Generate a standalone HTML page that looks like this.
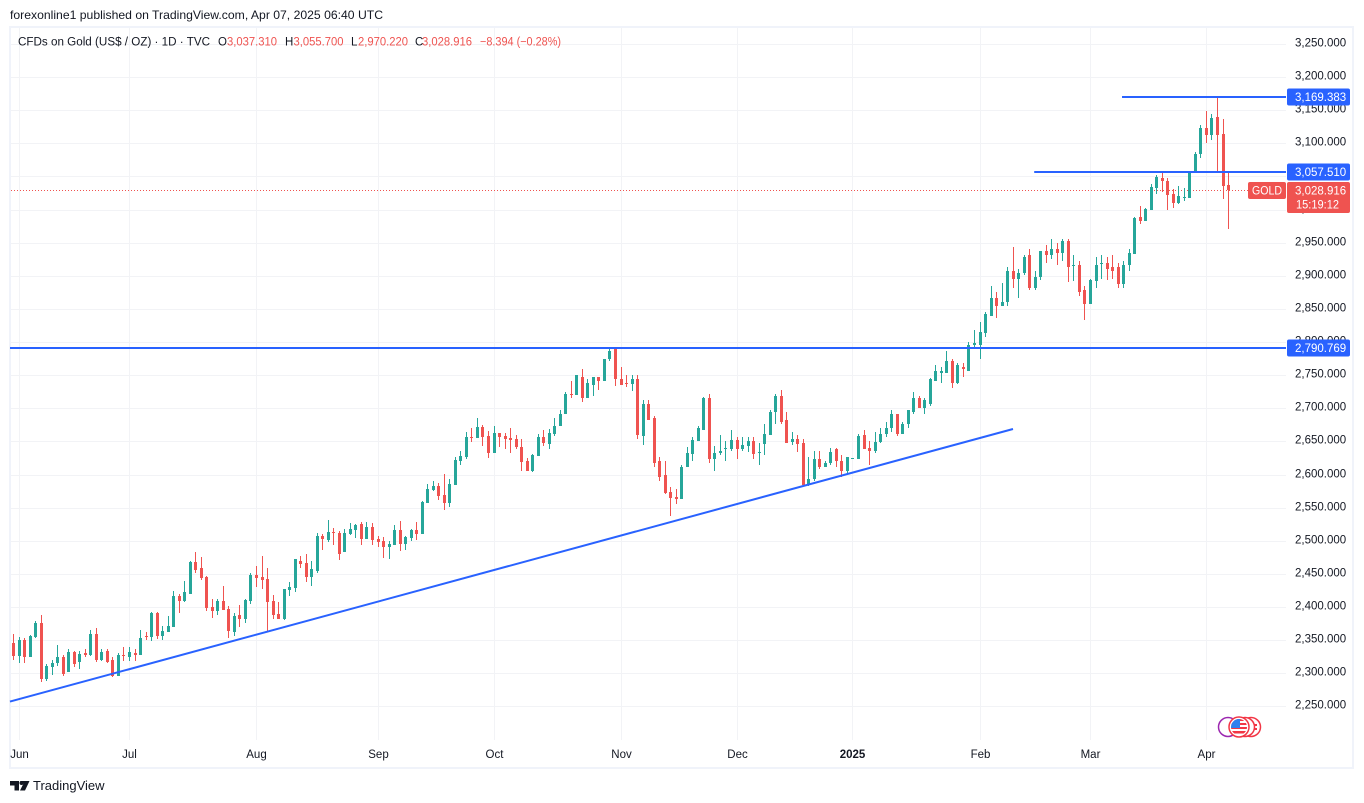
<!DOCTYPE html>
<html lang="en">
<head>
<meta charset="utf-8">
<title>CFDs on Gold daily chart</title>
<style>
html,body{margin:0;padding:0;background:#fff;}
body{width:1364px;height:803px;overflow:hidden;}
svg{display:block;font-family:"Liberation Sans",sans-serif;}
text{fill:#131722;}
</style>
</head>
<body>
<svg id="chart" xmlns="http://www.w3.org/2000/svg" width="1364" height="803" viewBox="0 0 1364 803">
  <text x="10" y="19" font-size="12" textLength="373" lengthAdjust="spacingAndGlyphs">forexonline1 published on TradingView.com, Apr 07, 2025 06:40 UTC</text>
  <rect x="10" y="27" width="1343" height="741" fill="none" stroke="#f0f3fa" stroke-width="2"/>
  <g id="grid"></g>
  <g id="priceAxis"></g>
  <g id="timeAxis"></g>
  <g id="lastLine"></g>
  <g id="candles"></g>
  <g id="drawings"></g>
  <g id="labels"></g>

  <g font-size="11.5">
    <text x="18" y="45.5" textLength="192" lengthAdjust="spacingAndGlyphs">CFDs on Gold (US$ / OZ) · 1D · TVC</text>
    <text x="218" y="45.5">O</text>
    <text x="227" y="45.5" textLength="50" lengthAdjust="spacingAndGlyphs" style="fill:#ef5350">3,037.310</text>
    <text x="285" y="45.5">H</text>
    <text x="293.5" y="45.5" textLength="50" lengthAdjust="spacingAndGlyphs" style="fill:#ef5350">3,055.700</text>
    <text x="351" y="45.5">L</text>
    <text x="358" y="45.5" textLength="50" lengthAdjust="spacingAndGlyphs" style="fill:#ef5350">2,970.220</text>
    <text x="415" y="45.5">C</text>
    <text x="422" y="45.5" textLength="50" lengthAdjust="spacingAndGlyphs" style="fill:#ef5350">3,028.916</text>
    <text x="480" y="45.5" textLength="81" lengthAdjust="spacingAndGlyphs" style="fill:#ef5350">−8.394 (−0.28%)</text>
  </g>

  <g>
    <defs><clipPath id="flagClip"><circle cx="1239" cy="727" r="8"/></clipPath></defs>
    <circle cx="1228" cy="727" r="9.5" fill="#fff" stroke="#9c27b0" stroke-width="1.5"/>
    <circle cx="1251" cy="727" r="9.5" fill="#fff" stroke="#f23645" stroke-width="1.5"/>
    <rect x="1250" y="724" width="7" height="2" fill="#f23645"/>
    <rect x="1250" y="728" width="7" height="2" fill="#f23645"/>
    <circle cx="1245" cy="727" r="9.5" fill="#fff" stroke="#f23645" stroke-width="1.5"/>
    <circle cx="1239" cy="727" r="10" fill="#fff" stroke="#f23645" stroke-width="1.5"/>
    <g clip-path="url(#flagClip)">
      <rect x="1231" y="719" width="16" height="16" fill="#fff"/>
      <rect x="1231" y="719" width="16" height="2" fill="#f23645"/>
      <rect x="1231" y="723" width="16" height="2" fill="#f23645"/>
      <rect x="1231" y="727" width="16" height="2" fill="#f23645"/>
      <rect x="1231" y="731" width="16" height="2.5" fill="#f23645"/>
      <rect x="1231" y="719" width="9" height="9" fill="#2f80ed"/>
    </g>
  </g>

  <g>
    <path d="M10 781h9v9.5h-4.5v-5H10z M20 781h9.5l-4.5 9.5h-5l3.5-7z" fill="#131722"/>
    <circle cx="21.5" cy="783" r="2" fill="#131722"/>
    <text x="33" y="790" font-size="13">TradingView</text>
  </g>
</svg>

<script>
const opens = [
2345,2326,2351,2325,2355,2376,2292,2310,2316,2325,
2302,2332,2317,2330,2327,2360,2320,2334,2320,2296,
2328,2325,2331,2328,2357,2355,2391,2357,2363,2370,
2416,2409,2420,2468,2459,2446,2400,2394,2409,2397,
2363,2388,2382,2409,2449,2446,2443,2409,2390,2382,
2426,2429,2470,2467,2446,2455,2507,2501,2513,2512,
2483,2510,2516,2525,2503,2521,2503,2500,2491,2494,
2516,2495,2504,2516,2510,2557,2577,2583,2569,2557,
2584,2620,2627,2657,2655,2672,2658,2633,2663,2658,
2655,2654,2642,2620,2605,2628,2657,2646,2661,2673,
2691,2721,2720,2748,2715,2735,2748,2741,2774,2789,
2744,2738,2736,2745,2658,2707,2685,2620,2599,2573,
2566,2563,2611,2631,2650,2668,2716,2624,2632,2638,
2638,2652,2638,2643,2650,2632,2646,2659,2694,2718,
2682,2649,2653,2647,2584,2593,2623,2612,2618,2638,
2621,2605,2623,2623,2659,2640,2636,2649,2661,2671,
2691,2662,2677,2695,2715,2701,2706,2742,2754,2753,
2771,2739,2763,2756,2795,2796,2813,2840,2867,2855,
2860,2908,2896,2904,2931,2881,2898,2937,2932,2940,
2935,2953,2916,2917,2878,2857,2892,2919,2920,2913,
2913,2888,2916,2933,2989,2983,2999,3032,3047,3043,
3023,3010,3017,3017,3055,3084,3123,3113,3140,3114,
3037.31];
const highs = [
2360,2355,2354,2358,2379,2388,2314,2320,2342,2327,
2337,2333,2334,2336,2366,2369,2336,2337,2325,2331,
2340,2339,2337,2366,2363,2393,2392,2372,2387,2425,
2419,2440,2470,2483,2476,2447,2412,2412,2432,2402,
2391,2403,2412,2452,2462,2477,2459,2418,2408,2428,
2438,2473,2477,2480,2470,2512,2510,2531,2519,2515,
2518,2527,2525,2528,2528,2527,2507,2506,2500,2524,
2530,2507,2518,2528,2560,2586,2590,2587,2601,2593,
2627,2636,2664,2670,2685,2675,2666,2673,2663,2663,
2670,2660,2654,2625,2631,2661,2667,2669,2685,2697,
2724,2742,2750,2759,2744,2748,2748,2775,2790,2790,
2763,2750,2751,2751,2712,2712,2688,2627,2620,2582,
2578,2615,2641,2656,2674,2717,2722,2643,2659,2650,
2667,2656,2656,2656,2656,2647,2677,2697,2722,2727,
2694,2665,2659,2653,2627,2635,2635,2621,2640,2640,
2629,2627,2625,2662,2667,2650,2665,2671,2680,2698,
2692,2679,2698,2725,2718,2715,2746,2765,2762,2787,
2774,2768,2768,2800,2818,2831,2846,2884,2875,2889,
2913,2944,2910,2931,2941,2908,2938,2947,2956,2950,
2956,2955,2931,2922,2885,2896,2929,2931,2928,2931,
2919,2922,2941,2989,3005,3002,3038,3052,3058,3047,
3031,3035,3032,3058,3087,3128,3149,3144,3169.38,3137,
3055.7];
const lows = [
2320,2316,2316,2325,2354,2287,2289,2298,2311,2296,
2302,2310,2307,2325,2326,2317,2319,2316,2295,2296,
2319,2319,2319,2328,2351,2349,2352,2351,2363,2370,
2391,2408,2420,2452,2441,2394,2384,2388,2396,2354,
2357,2370,2376,2405,2431,2428,2363,2382,2382,2381,
2417,2423,2459,2438,2432,2452,2486,2498,2494,2471,
2483,2509,2504,2494,2503,2494,2491,2474,2473,2494,
2485,2486,2500,2501,2510,2557,2575,2562,2547,2551,
2584,2614,2624,2649,2655,2643,2625,2633,2642,2639,
2633,2639,2605,2605,2604,2628,2643,2639,2658,2673,
2691,2715,2720,2710,2715,2718,2727,2741,2772,2733,
2735,2732,2726,2653,2644,2682,2612,2591,2571,2538,
2555,2563,2611,2620,2650,2668,2617,2606,2629,2621,
2635,2623,2635,2634,2624,2614,2629,2659,2677,2676,
2647,2644,2634,2583,2583,2591,2609,2611,2615,2612,
2597,2602,2623,2623,2638,2615,2633,2647,2656,2665,
2658,2661,2671,2691,2700,2691,2704,2742,2738,2753,
2731,2736,2747,2756,2792,2774,2808,2840,2836,2854,
2855,2882,2866,2902,2878,2879,2893,2920,2925,2917,
2923,2890,2892,2869,2834,2857,2882,2896,2893,2895,
2881,2881,2907,2933,2978,2983,2999,3023,3026,2999,
3002,3008,3013,3017,3055,3078,3101,3105,3055.5,3016,
2970.22];
const closes = [
2326,2351,2325,2357,2376,2292,2311,2316,2325,2299,
2332,2314,2329,2328,2360,2320,2332,2317,2296,2328,
2326,2332,2328,2354,2355,2391,2357,2364,2372,2416,
2409,2422,2468,2456,2444,2399,2394,2409,2396,2364,
2387,2382,2411,2449,2444,2441,2408,2388,2382,2427,
2431,2472,2465,2446,2458,2508,2503,2513,2512,2480,
2512,2518,2524,2503,2521,2501,2498,2491,2495,2516,
2495,2506,2516,2510,2559,2578,2583,2568,2557,2586,
2622,2628,2657,2655,2672,2657,2633,2663,2657,2654,
2652,2642,2619,2605,2630,2657,2648,2663,2673,2691,
2722,2719.5,2750,2715,2738,2748,2741,2775,2787,2744,
2735,2736,2745,2659,2707,2683,2618,2597,2572,2564,
2563,2612,2633,2652,2670,2716,2624,2633,2636,2640,
2652,2638,2644,2650,2631,2634,2661,2694,2718,2680,
2647,2653,2646,2584,2594,2623,2611,2617,2634,2621,
2605,2626,2625,2658,2638,2635,2649,2662,2671,2691,
2662,2677,2697,2715,2701,2712,2745,2757,2756,2771,
2739,2765,2759,2795,2798,2815,2842,2867,2855,2861,
2908,2896,2905,2928,2881,2899,2937,2932,2940,2934,
2953,2914,2917,2876,2857,2893,2917,2920,2911,2908,
2888,2917,2935,2988,2983,3001,3034,3049,3043,3022,
3010,3020,3019,3055,3084,3123,3113,3138,3113,3036,
3028.916];
const priceTicks = [3250,3200,3150,3100,3050,3000,2950,2900,2850,2800,2750,2700,2650,2600,2550,2500,2450,2400,2350,2300,2250];
const timeTickLabels = ["Jun","Jul","Aug","Sep","Oct","Nov","Dec","2025","Feb","Mar","Apr"];
const timeTickCandles = [1,21,44,66,87,110,131,152,175,195,216];
const levelPrices = [3169.383,3057.51,2790.769];
const levelStartCandles = [200.8,184.9,-0.55];
const trendCandles = [-0.55,181.06];
const trendPrices = [2257.3,2668.8];
const lastClose = 3028.916;

const NS = "http://www.w3.org/2000/svg";
const UP = "#26a69a", DOWN = "#ef5350", BLUE = "#2962ff", GRID = "#f2f3f6";
const yOf = p => 673.3 - (p - 2300) * 0.6624;
const xOf = i => 13 + 5.523 * i;
const PLOT_L = 11, PLOT_R = 1286, PLOT_T = 28, PLOT_B = 740;

function mk(tag, parent, attrs) {
  const el = document.createElementNS(NS, tag);
  for (const k in attrs) el.setAttribute(k, attrs[k]);
  parent.appendChild(el);
  return el;
}
const fmt = p => p.toLocaleString("en-US", {minimumFractionDigits: 3, maximumFractionDigits: 3});

const gridG = document.getElementById("grid");
const priceG = document.getElementById("priceAxis");
priceTicks.forEach(p => {
  const y = Math.round(yOf(p)) + 0.5;
  const ln = mk("line", gridG, {x1: PLOT_L, x2: PLOT_R, y1: y, y2: y, stroke: GRID, "stroke-width": 1});
  
  
  const t = mk("text", priceG, {x: 1295, y: y + 2, "font-size": 11.5});
  t.textContent = fmt(p);
  
  
});

const timeG = document.getElementById("timeAxis");
timeTickCandles.forEach((c, k) => {
  const x = Math.round(xOf(c)) + 0.5;
  const ln = mk("line", gridG, {x1: x, x2: x, y1: PLOT_T, y2: PLOT_B, stroke: GRID, "stroke-width": 1});
  
  
  const t = mk("text", timeG, {x: x, y: 758, "font-size": 11.5, "text-anchor": "middle"});
  if (timeTickLabels[k] === "2025") t.setAttribute("font-weight", "bold");
  t.textContent = timeTickLabels[k];
  
  
});

const lastY = Math.round(yOf(lastClose)) + 0.5;
const lastG = document.getElementById("lastLine");
const dotted = mk("line", lastG, {x1: PLOT_L, x2: 1248, y1: lastY, y2: lastY, stroke: DOWN, "stroke-width": 1, "stroke-dasharray": "1 2"});



const candleG = document.getElementById("candles");
opens.forEach((o, i) => {
  const c = closes[i], h = highs[i], l = lows[i];
  const col = c >= o ? UP : DOWN;
  const cx = Math.round(xOf(i));
  const yH = Math.round(yOf(h)), yL = Math.round(yOf(l));
  const yT = Math.round(yOf(Math.max(o, c))), yB = Math.round(yOf(Math.min(o, c)));
  const wick = mk("rect", candleG, {x: cx, y: yH, width: 1, height: Math.max(1, yL - yH), fill: col});
  
  
  const body = mk("rect", candleG, {x: cx - 1, y: yT, width: 3, height: Math.max(1, yB - yT), fill: col});
  
  
});

const drawG = document.getElementById("drawings");
levelPrices.forEach((p, k) => {
  const y = Math.round(yOf(p));
  const ln = mk("line", drawG, {x1: Math.max(10, xOf(levelStartCandles[k])), x2: PLOT_R, y1: y, y2: y, stroke: BLUE, "stroke-width": 2});
  
  
});
const trend = mk("line", drawG, {x1: xOf(trendCandles[0]), y1: yOf(trendPrices[0]), x2: xOf(trendCandles[1]), y2: yOf(trendPrices[1]), stroke: BLUE, "stroke-width": 2});



const labelG = document.getElementById("labels");
levelPrices.forEach(p => {
  const y = Math.round(yOf(p));
  const box = mk("rect", labelG, {x: 1287, y: y - 8.5, width: 63, height: 17, rx: 2, fill: BLUE});
  
  
  const t = mk("text", labelG, {x: 1295, y: y + 4, "font-size": 11.5, style: "fill:#fff"});
  t.textContent = fmt(p);
  
  
});
const gold = mk("rect", labelG, {x: 1248, y: lastY - 8.5, width: 38, height: 17, rx: 2, fill: DOWN});


const goldT = mk("text", labelG, {x: 1252, y: lastY + 4, "font-size": 11.5, textLength: 30, lengthAdjust: "spacingAndGlyphs", style: "fill:#fff"});
goldT.textContent = "GOLD";


const lastBox = mk("rect", labelG, {x: 1287, y: lastY - 8.5, width: 63, height: 31, rx: 2, fill: DOWN});


const lastT = mk("text", labelG, {x: 1295, y: lastY + 4, "font-size": 11.5, style: "fill:#fff"});
lastT.textContent = fmt(lastClose);


const cd = mk("text", labelG, {x: 1296, y: lastY + 18, "font-size": 11.5, textLength: 43, lengthAdjust: "spacingAndGlyphs", style: "fill:#fff"});
cd.textContent = "15:19:12";


</script>
</body>
</html>
